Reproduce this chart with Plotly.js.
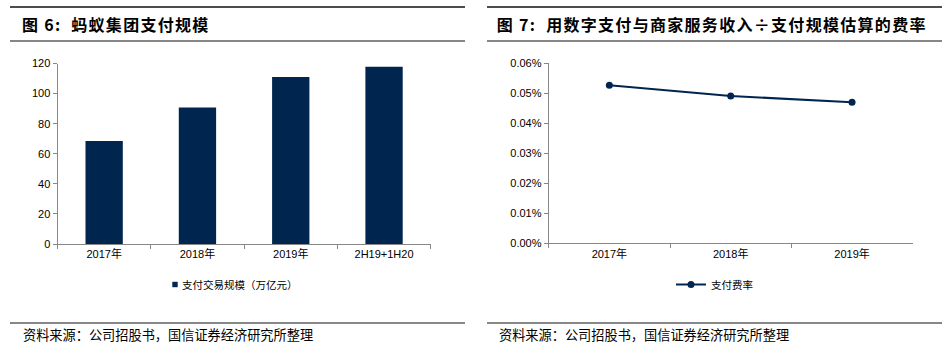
<!DOCTYPE html>
<html><head><meta charset="utf-8">
<script src="https://cdn.plot.ly/plotly-3.0.1.min.js"></script>
<style>
html,body{margin:0;padding:0;background:#fff}#chart{width:951px;height:353px}
.annotation[data-index="0"] text, .annotation[data-index="1"] text {letter-spacing:1.3px}
g.legend g.legendpoints path {transform: translate(33px,0px) scale(0.45);}
</style>
</head><body><div id="chart"></div>
<script>
// ---- data ----
const barCategories = ['2017年', '2018年', '2019年', '2H19+1H20'];
const payVolume = [68.5, 90.7, 111, 117.8];           // 支付交易规模（万亿元）
const barSeriesName = '支付交易规模（万亿元）';
const rateCategories = ['2017年', '2018年', '2019年'];
const payRate = [0.000527, 0.000491, 0.000470];      // 支付费率
const rateSeriesName = '支付费率';
const leftTitle = '图 6:  蚂蚁集团支付规模';
const rightTitle = '图 7:  用数字支付与商家服务收入÷支付规模估算的费率';
const sourceText = '资料来源：公司招股书，国信证券经济研究所整理';

// ---- layout helpers ----
const W = 951, H = 353;
const px = x => x / W;
const py = y => 1 - y / H;
const navy = '#00264f';
const axisGray = '#888888';
const tickFont = {family: 'Liberation Sans, Arial, Noto Sans CJK SC', size: 11, color: '#000'};

const traces = [
  {type: 'bar', x: barCategories, y: payVolume, name: barSeriesName,
   marker: {color: navy}, xaxis: 'x', yaxis: 'y', legend: 'legend'},
  {type: 'scatter', mode: 'lines+markers', x: rateCategories, y: payRate, name: rateSeriesName,
   line: {color: navy, width: 2}, marker: {color: navy, size: 7},
   xaxis: 'x2', yaxis: 'y2', legend: 'legend2'}
];

const axisCommon = {showgrid: false, zeroline: false, showline: true, linecolor: axisGray, linewidth: 1,
  ticks: 'outside', ticklen: 4, tickcolor: axisGray, tickfont: tickFont, fixedrange: true};

function hline(x0, x1, y, w) {
  return {type: 'line', xref: 'paper', yref: 'paper', x0: px(x0), x1: px(x1), y0: py(y), y1: py(y),
    line: {color: '#111', width: w}};
}

const titleFont = {family: 'Noto Sans CJK SC', size: 16, color: '#000', weight: 'bold'};
const srcFont = {family: 'Noto Sans CJK SC', size: 13.2, color: '#000'};
const legFont = {family: 'Noto Sans CJK SC', size: 10.5, color: '#000'};

const layout = {
  width: W, height: H, margin: {l: 0, r: 0, t: 0, b: 0},
  paper_bgcolor: '#fff', plot_bgcolor: '#fff',
  bargap: 0.6,
  xaxis: Object.assign({}, axisCommon, {domain: [px(57.5), px(430.7)], anchor: 'y', type: 'category', tickson: 'boundaries'}),
  yaxis: Object.assign({}, axisCommon, {domain: [py(244), py(63.5)], anchor: 'x', range: [0, 120], dtick: 20}),
  xaxis2: Object.assign({}, axisCommon, {domain: [px(548.7), px(912.7)], anchor: 'y2', type: 'category', tickson: 'boundaries', range: [-0.5, 2.5]}),
  yaxis2: Object.assign({}, axisCommon, {domain: [py(243.3), py(63.3)], anchor: 'x2', range: [0, 0.0006], dtick: 0.0001, tickformat: '.2%'}),
  legend: {x: px(142), y: py(270), xanchor: 'left', yanchor: 'top', orientation: 'h',
    font: legFont, bgcolor: 'rgba(0,0,0,0)'},
  legend2: {x: px(671), y: py(270), xanchor: 'left', yanchor: 'top', orientation: 'h',
    font: legFont, bgcolor: 'rgba(0,0,0,0)'},
  shapes: [
    hline(10, 465, 7, 1.5), hline(10, 465, 41, 1.2), hline(10, 465, 323, 1.2),
    hline(487, 942, 7, 1.5), hline(487, 942, 41, 1.2), hline(487, 942, 323, 1.2)
  ],
  annotations: [
    {text: leftTitle, xref: 'paper', yref: 'paper', x: px(29), y: py(24), xanchor: 'left', yanchor: 'middle', showarrow: false, font: titleFont},
    {text: rightTitle, xref: 'paper', yref: 'paper', x: px(513), y: py(24), xanchor: 'left', yanchor: 'middle', showarrow: false, font: titleFont},
    {text: sourceText, xref: 'paper', yref: 'paper', x: px(21), y: py(334), xanchor: 'left', yanchor: 'middle', showarrow: false, font: srcFont},
    {text: sourceText, xref: 'paper', yref: 'paper', x: px(497), y: py(334), xanchor: 'left', yanchor: 'middle', showarrow: false, font: srcFont}
  ],
  showlegend: true
};

Plotly.newPlot('chart', traces, layout, {displayModeBar: false, staticPlot: true});
</script></body></html>
